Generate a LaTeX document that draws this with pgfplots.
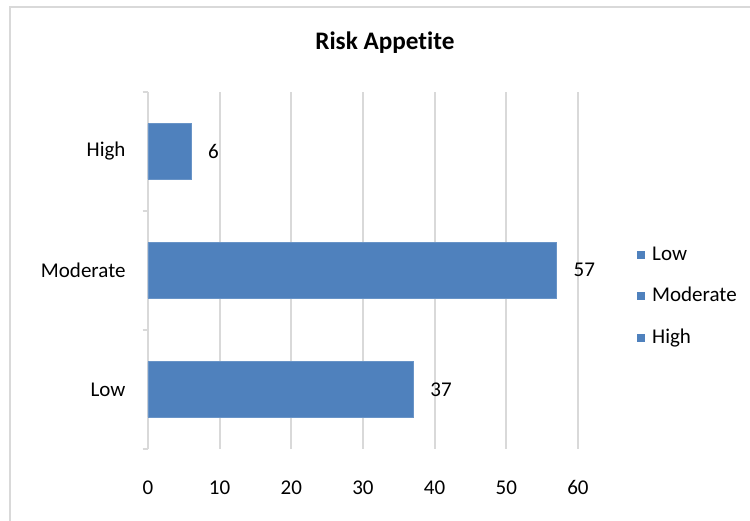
\documentclass[border=0pt]{standalone}
\usepackage{pgfplots}
\pgfplotsset{compat=1.18}
\usepackage{fontspec}
\setmainfont{Carlito}[Ligatures=NoCommon]
\definecolor{barblue}{HTML}{4F81BD}
\definecolor{axisgray}{HTML}{D9D9D9}
\definecolor{txt}{HTML}{000000}
\begin{document}
\begin{tikzpicture}
\useasboundingbox (-70.45pt,-34.3pt) rectangle (286.6pt,213.7pt);
\draw[axisgray, line width=1pt] (-65.7pt,-60pt) rectangle (320pt,210.4pt);
\begin{axis}[
  at={(0pt,0pt)}, anchor=south west,
  scale only axis,
  width=204.7pt, height=170pt,
  xbar, bar width=0.465, bar shift=0pt,
  xmin=0, xmax=60,
  ymin=-0.5, ymax=2.5,
  xtick={0,10,...,60},
  ytick={0,1,2},
  yticklabels={Low,Moderate,High},
  major tick length=0pt,
  axis x line*=bottom,
  axis y line*=left,
  axis line style={-, axisgray, line width=0.9pt},
  x axis line style={draw=none},
  xmajorgrids, grid style={axisgray, line width=0.9pt},
  extra y ticks={-0.5,0.5,1.5,2.5},
  extra y tick labels={},
  extra y tick style={major tick length=2.6pt, tick align=outside, tick style={axisgray, line width=0.9pt}},
  /pgf/number format/assume math mode=true,
  tick label style={font=\fontsize{10}{12}\selectfont, text=txt},
  xticklabel style={anchor=north, inner sep=0pt, yshift=-15pt},
  yticklabel style={anchor=east, inner sep=0pt, xshift=-10.5pt},
  title={\textbf{Risk Appetite}},
  title style={at={(axis description cs:0.551,1.137)}, anchor=center, yshift=-6pt, font=\fontsize{12}{14}\selectfont, inner sep=0pt},
  nodes near coords,
  every node near coord/.append style={anchor=west, inner sep=0pt, xshift=8pt, font=\fontsize{10}{12}\selectfont, text=txt},
  legend style={draw=none, fill=none, at={(1.137,0.427)}, anchor=west, inner sep=0pt,
    row sep=10.75pt, nodes={inner sep=0pt, text height=7pt, text depth=2pt},
    font=\fontsize{10}{12}\selectfont, text=txt},
  legend cell align=left,
  legend image code/.code={\fill[barblue, draw=none] (0pt,-1.9pt) rectangle (3.8pt,1.9pt); \path[draw=none] (0pt,0pt) -- (7.1pt,0pt);},
]
\addplot[fill=barblue, draw=barblue!85!white, line width=0.4pt, bar shift=0pt, forget plot] coordinates {(37,0) (57,1) (6,2)};
\addlegendimage{barblue}
\addlegendentry{Low}
\addlegendimage{barblue}
\addlegendentry{Moderate}
\addlegendimage{barblue}
\addlegendentry{High}
\end{axis}
\end{tikzpicture}
\end{document}
